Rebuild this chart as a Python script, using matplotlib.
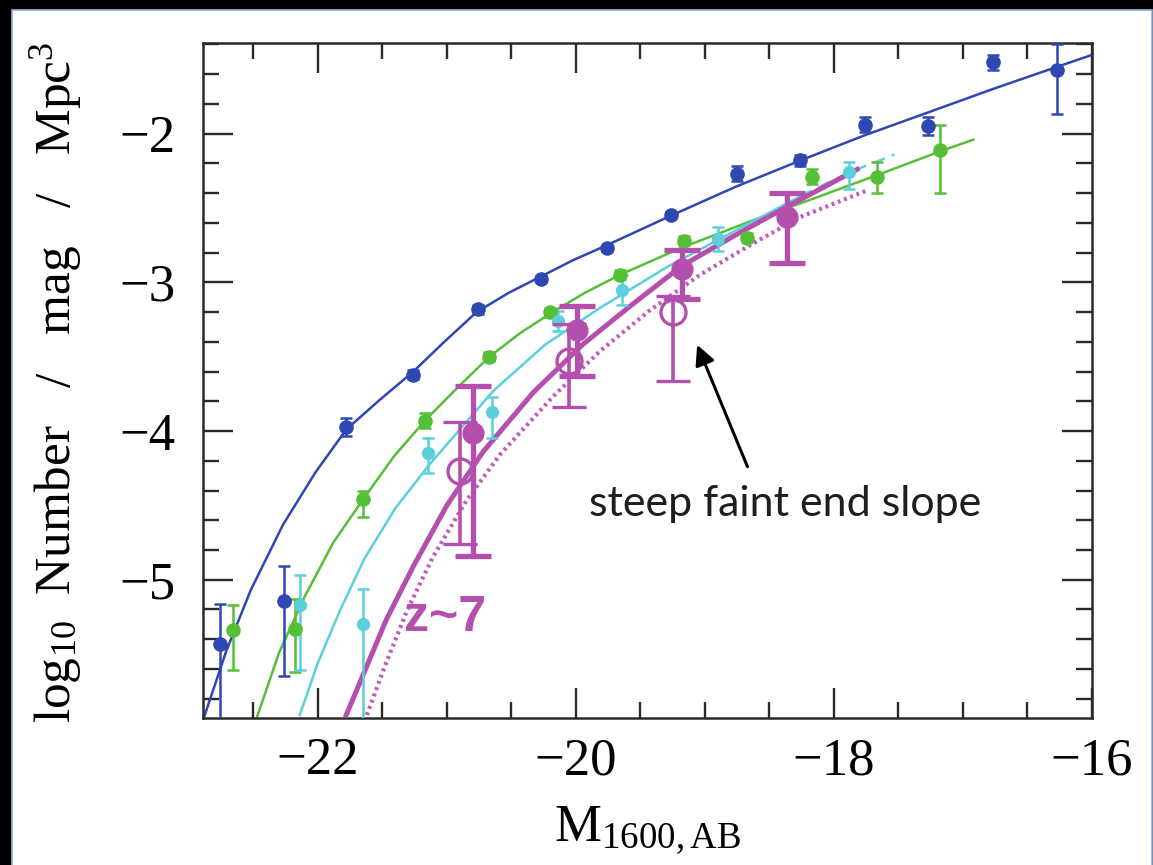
import matplotlib
matplotlib.use("Agg")
import matplotlib.pyplot as plt
from matplotlib.patches import Rectangle
from matplotlib.ticker import MultipleLocator

plt.rcParams['font.family'] = ['Liberation Serif', 'DejaVu Serif']
plt.rcParams['mathtext.fontset'] = 'custom'
plt.rcParams['mathtext.rm'] = 'Liberation Serif'
plt.rcParams['mathtext.it'] = 'Liberation Serif:italic'
plt.rcParams['mathtext.bf'] = 'Liberation Serif:bold'

BLUE = '#2d47b3'
GREEN = '#55bf38'
CYAN = '#5bcfdc'
MAGENTA = '#b44fae'
MAGENTA_DOT = '#c25cbb'

# --- data points (M_1600, log phi, err up, err down) ---
blue_M = [-22.76, -22.26, -21.78, -21.26, -20.76, -20.27, -19.76, -19.26,
          -18.75, -18.26, -17.76, -17.27, -16.77, -16.27]
blue_y = [-5.43, -5.14, -3.97, -3.62, -3.18, -2.98, -2.77, -2.55,
          -2.27, -2.18, -1.94, -1.95, -1.52, -1.57]
blue_up = [0.27, 0.23, 0.06, 0.03, 0.03, 0.02, 0.02, 0.02, 0.05, 0.04, 0.05, 0.06, 0.05, 0.17]
blue_dn = [0.60, 0.51, 0.06, 0.03, 0.03, 0.02, 0.02, 0.02, 0.05, 0.04, 0.05, 0.06, 0.05, 0.30]

green_M = [-22.66, -22.18, -21.65, -21.17, -20.67, -20.20, -19.66, -19.16,
           -18.67, -18.17, -17.67, -17.18]
green_y = [-5.34, -5.33, -4.46, -3.93, -3.50, -3.20, -2.95, -2.72,
           -2.70, -2.29, -2.29, -2.11]
green_up = [0.17, 0.20, 0.06, 0.05, 0.03, 0.03, 0.03, 0.03, 0.03, 0.05, 0.10, 0.17]
green_dn = [0.27, 0.29, 0.12, 0.05, 0.03, 0.03, 0.03, 0.03, 0.03, 0.05, 0.11, 0.29]

cyan_M = [-22.14, -21.65, -21.15, -20.65, -20.14, -19.64, -18.90, -17.88]
cyan_y = [-5.17, -5.30, -4.15, -3.87, -3.26, -3.05, -2.71, -2.26]
cyan_up = [0.20, 0.24, 0.10, 0.10, 0.07, 0.10, 0.08, 0.07]
cyan_dn = [0.44, 0.65, 0.13, 0.18, 0.07, 0.10, 0.08, 0.11]

z7_M = [-20.80, -19.99, -19.18, -18.36]
z7_y = [-4.01, -3.32, -2.91, -2.56]
z7_up = [0.31, 0.16, 0.13, 0.16]
z7_dn = [0.83, 0.31, 0.20, 0.31]

z7o_M = [-20.90, -20.05, -19.25]
z7o_y = [-4.27, -3.53, -3.20]
z7o_up = [0.33, 0.25, 0.11]
z7o_dn = [0.49, 0.31, 0.46]

# --- fitted curves ---
blue_fit_M = [-22.88, -22.71, -22.52, -22.27, -22.02, -21.78, -21.52, -21.26,
              -21.02, -20.77, -20.52, -20.27, -20.02, -19.76, -19.26, -18.77,
              -18.26, -17.76, -17.28, -16.77, -16.27, -16.00]
blue_fit_y = [-5.92, -5.48, -5.07, -4.63, -4.28, -3.99, -3.79, -3.60,
              -3.40, -3.20, -3.07, -2.96, -2.85, -2.75, -2.55, -2.36,
              -2.18, -2.01, -1.86, -1.70, -1.55, -1.47]

green_fit_M = [-22.47, -22.30, -22.10, -21.88, -21.65, -21.41, -21.17, -20.92,
               -20.67, -20.43, -20.20, -19.93, -19.66, -19.19, -18.65, -18.17,
               -17.67, -17.18, -16.92]
green_fit_y = [-5.92, -5.49, -5.11, -4.75, -4.46, -4.17, -3.93, -3.71,
               -3.50, -3.34, -3.21, -3.07, -2.95, -2.77, -2.59, -2.44,
               -2.28, -2.12, -2.04]

cyan_fit_M = [-22.14, -22.00, -21.83, -21.64, -21.40, -21.13, -20.82, -20.64,
              -20.24, -19.81, -19.30, -18.78, -18.26]
cyan_fit_y = [-5.91, -5.56, -5.21, -4.86, -4.52, -4.22, -3.91, -3.73,
              -3.42, -3.17, -2.90, -2.66, -2.42]
cyan_ext_M = [-18.26, -17.88, -17.53]
cyan_ext_y = [-2.42, -2.26, -2.14]

z7_fit_M = [-21.78, -21.62, -21.47, -21.26, -21.00, -20.72, -20.33, -19.95,
            -19.58, -19.18, -18.78, -18.34, -17.82]
z7_fit_y = [-5.91, -5.58, -5.27, -4.91, -4.50, -4.14, -3.74, -3.42,
            -3.16, -2.89, -2.69, -2.48, -2.24]

z8_fit_M = [-21.62, -21.48, -21.31, -21.11, -20.85, -20.59, -20.18, -19.81,
            -19.43, -19.04, -18.65, -18.26, -17.74]
z8_fit_y = [-5.91, -5.58, -5.21, -4.85, -4.47, -4.16, -3.77, -3.46,
            -3.19, -2.95, -2.75, -2.56, -2.38]

fig = plt.figure(figsize=(11.53, 8.65), dpi=100, facecolor='black')
fig.patches.append(Rectangle((12 / 1153, -0.01), 1139.5 / 1153, 855 / 865 + 0.01,
                             transform=fig.transFigure, facecolor='white',
                             edgecolor='#8db0dc', lw=1.2, zorder=-10))

ax = fig.add_axes([203 / 1153, 1 - 718 / 865, 889 / 1153, 675 / 865])
ax.set_facecolor('white')

# curves
ax.plot(blue_fit_M, blue_fit_y, color=BLUE, lw=1.8, zorder=2)
ax.plot(green_fit_M, green_fit_y, color=GREEN, lw=1.8, zorder=2)
ax.plot(cyan_fit_M, cyan_fit_y, color=CYAN, lw=1.8, zorder=2)
ax.plot(cyan_ext_M, cyan_ext_y, color=CYAN, lw=1.8, ls=(0, (5, 3)), zorder=2)
ax.plot(z8_fit_M, z8_fit_y, color=MAGENTA_DOT, lw=3.0, ls=(0, (0.7, 0.9)), zorder=3)
ax.plot(z7_fit_M, z7_fit_y, color=MAGENTA, lw=3.6, zorder=3)

# points
ax.errorbar(blue_M, blue_y, yerr=[blue_dn, blue_up], fmt='o', color=BLUE, ms=9.5,
            elinewidth=1.8, capsize=4.5, capthick=1.8, zorder=4)
ax.errorbar(green_M, green_y, yerr=[green_dn, green_up], fmt='o', color=GREEN, ms=9.5,
            elinewidth=1.8, capsize=4.5, capthick=1.8, zorder=4)
ax.errorbar(cyan_M, cyan_y, yerr=[cyan_dn, cyan_up], fmt='o', color=CYAN, ms=8.5,
            elinewidth=1.8, capsize=4.5, capthick=1.8, zorder=4)
ax.errorbar(z7o_M, z7o_y, yerr=[z7o_dn, z7o_up], fmt='o', color=MAGENTA, ms=18,
            mfc='none', mew=2.4, elinewidth=2.6, capsize=12, capthick=2.6, zorder=5)
ax.errorbar(z7_M, z7_y, yerr=[z7_dn, z7_up], fmt='o', color=MAGENTA, ms=15,
            elinewidth=3.8, capsize=13, capthick=3.8, zorder=6)

ax.text(-21.33, -5.26, 'z~7', color=MAGENTA, fontsize=36, fontweight='bold',
        family=['Liberation Sans', 'DejaVu Sans'], ha='left', va='center', zorder=7)

ax.annotate('', xy=(-19.06, -3.42), xytext=(-18.67, -4.24),
            arrowprops=dict(arrowstyle='-|>', color='black', lw=2.2,
                            mutation_scale=30, shrinkA=0, shrinkB=0), zorder=7)
ax.text(-18.38, -4.49, 'steep faint end slope', fontsize=31, color='#1e1e1e',
        family=['Lato', 'DejaVu Sans'], ha='center', va='center', zorder=7)

ax.set_xlim(-22.89, -16.0)
ax.set_ylim(-5.93, -1.39)
ax.xaxis.set_major_locator(MultipleLocator(2))
ax.xaxis.set_minor_locator(MultipleLocator(0.5))
ax.yaxis.set_major_locator(MultipleLocator(1))
ax.yaxis.set_minor_locator(MultipleLocator(0.2))
ax.tick_params(which='both', direction='in', top=True, right=True,
               color='#2a2a2a', width=1.7, labelsize=38)
ax.tick_params(which='major', length=21.5)
ax.tick_params(which='minor', length=11.5)
ax.tick_params(axis='x', pad=14)
ax.tick_params(axis='y', pad=20)
for s in ax.spines.values():
    s.set_linewidth(1.8)
    s.set_color('#2a2a2a')

fig.text(648 / 1153, 1 - 830 / 865, r'M$_{\mathrm{1600,AB}}$', fontsize=38,
         ha='center', va='center')
fig.text(56 / 1153, 1 - 382 / 865,
         r'log$_{\mathrm{10}}$  Number   /   mag   /   Mpc$^{3}$',
         fontsize=37, rotation=90, ha='center', va='center')

fig.savefig('out.png', dpi=100, facecolor=fig.get_facecolor())
